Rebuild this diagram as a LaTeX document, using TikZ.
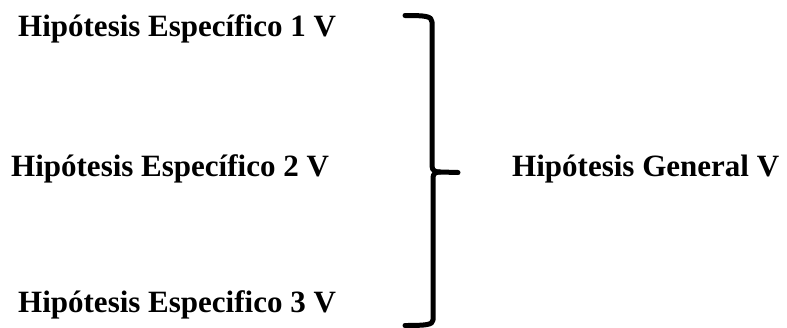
\documentclass[tikz,border=0pt]{standalone}
\usepackage{fontspec}
\setmainfont{Liberation Serif}
\usepackage{tikz}

\begin{document}
\begin{tikzpicture}
        [x=1pt,y=-1pt,every node/.style={inner sep=0pt,anchor=base west,font=\bfseries\fontsize{31}{36}\selectfont}]
        \useasboundingbox (0,0) rectangle (787,327);
        \node (Especifico1) at (18,36.5) {Hipótesis Específico 1 V};
        \node (Especifico2) at (11,176.5) {Hipótesis Específico 2 V};
        \node (Especifico3) at (18,312) {Hipótesis Especifico 3 V};
        \node (General) at (512,176.5) {Hipótesis General V};
        \tikzset{BraceStyle/.style = {draw,
                                  line width     = 5pt,
                                  line cap       = round,
                                  line join      = round}}
        % llave
        \path[BraceStyle] (405,15.5) .. controls (425,15.5) and (432,16) .. (432,22)
            -- (432,166) .. controls (432,171) and (436,172) .. (440,172) -- (458,172.5);
        \path[BraceStyle] (440,172) .. controls (435,172) and (433,174) .. (433,178)
            -- (433,320) .. controls (433,325) and (425,325.5) .. (405,325.5);
    \end{tikzpicture}
\end{document}
